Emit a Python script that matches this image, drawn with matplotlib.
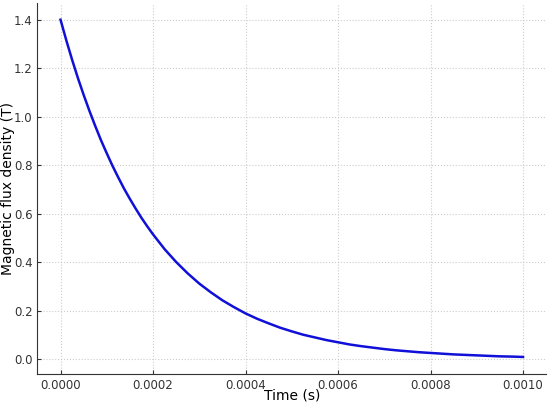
import numpy as np
import matplotlib
matplotlib.use("Agg")
import matplotlib.pyplot as plt

# values
time_s = np.array([0.0, 0.0000125, 0.000025, 0.0000375, 0.00005, 0.0000625, 0.000075, 0.0000875,
                   0.0001, 0.0001125, 0.000125, 0.0001375, 0.00015, 0.0001625, 0.000175, 0.0001875,
                   0.0002, 0.000225, 0.00025, 0.000275, 0.0003, 0.000325, 0.00035, 0.000375,
                   0.0004, 0.000425, 0.00045, 0.000475, 0.0005, 0.000525, 0.00055, 0.000575,
                   0.0006, 0.000625, 0.00065, 0.000675, 0.0007, 0.000725, 0.00075, 0.000775,
                   0.0008, 0.000825, 0.00085, 0.000875, 0.0009, 0.000925, 0.00095, 0.000975,
                   0.001])
flux_T = np.array([1.400, 1.315, 1.235, 1.160, 1.090, 1.024, 0.962, 0.903,
                   0.849, 0.797, 0.749, 0.703, 0.661, 0.621, 0.583, 0.548,
                   0.515, 0.454, 0.401, 0.354, 0.312, 0.276, 0.243, 0.215,
                   0.189, 0.167, 0.148, 0.130, 0.115, 0.101, 0.090, 0.079,
                   0.070, 0.061, 0.054, 0.048, 0.042, 0.037, 0.033, 0.029,
                   0.026, 0.023, 0.020, 0.018, 0.016, 0.014, 0.012, 0.011,
                   0.0095])

fig, ax = plt.subplots(figsize=(5.5, 4.05), dpi=100)
fig.subplots_adjust(left=0.068, right=0.993, top=0.993, bottom=0.077)

ax.plot(time_s, flux_T, color="#1010d8", linewidth=1.8)

ax.set_xlabel("Time (s)", fontsize=10)
ax.set_ylabel("Magnetic flux density (T)", fontsize=10)
ax.xaxis.set_label_coords(0.5, -0.040)
ax.yaxis.set_label_coords(-0.045, 0.5)
ax.set_xticks([0.0, 0.0002, 0.0004, 0.0006, 0.0008, 0.001])
ax.set_xticklabels(["0.0000", "0.0002", "0.0004", "0.0006", "0.0008", "0.0010"])
ax.set_yticks([0.0, 0.2, 0.4, 0.6, 0.8, 1.0, 1.2, 1.4])
ax.tick_params(direction="in", labelsize=8.5, colors="#333333", length=3)

ax.grid(True, linestyle=":", color="#cccccc", linewidth=0.8)
for side in ("top", "right"):
    ax.spines[side].set_visible(False)
for side in ("left", "bottom"):
    ax.spines[side].set_color("#333333")

fig.savefig("out.png", dpi=100)
